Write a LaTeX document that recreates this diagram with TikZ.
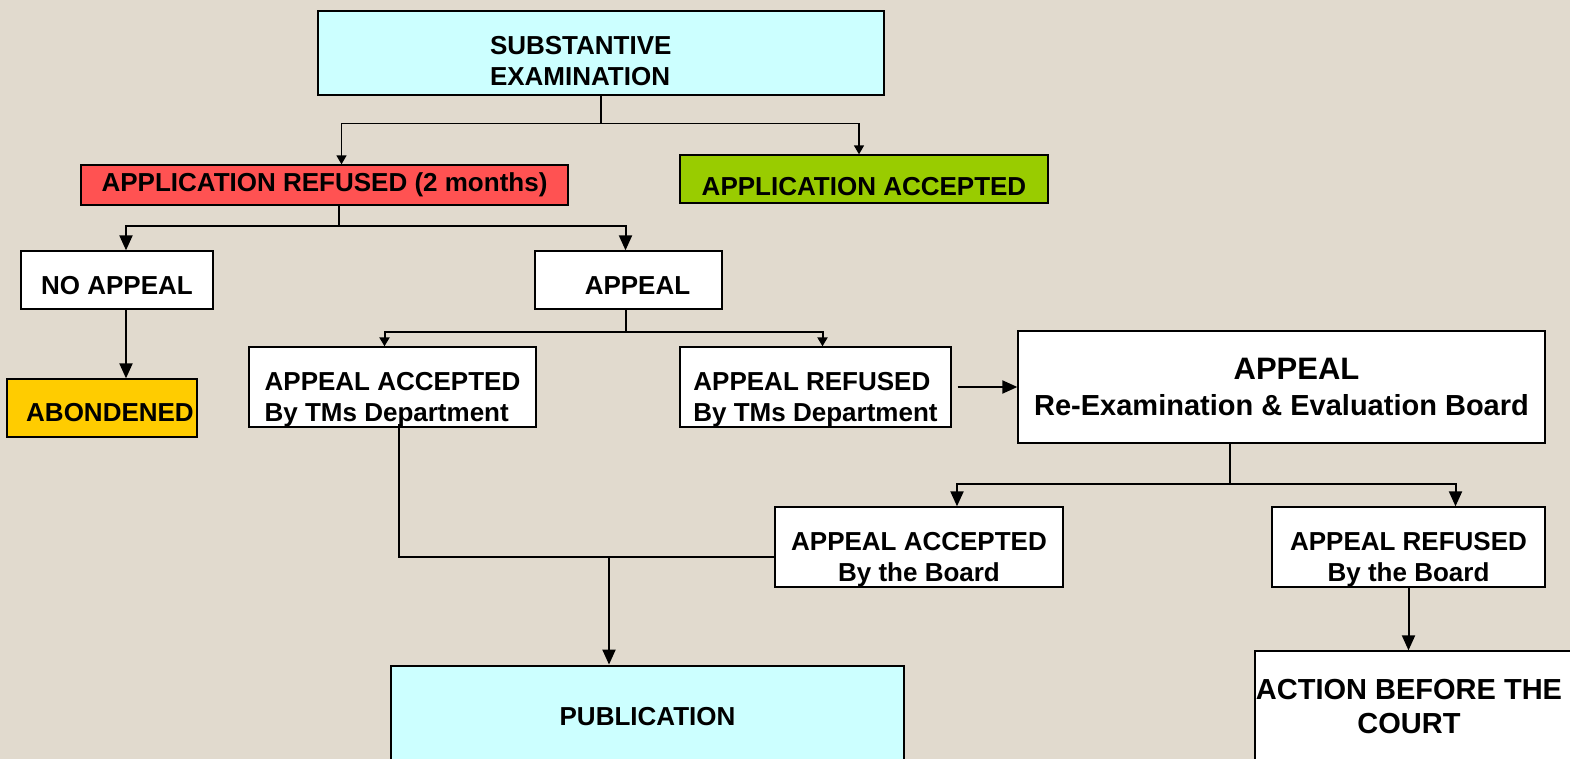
\documentclass[tikz,border=0pt]{standalone}
\usepackage{fontspec}
\setmainfont{Liberation Sans}
\usepackage{xcolor}
\usetikzlibrary{arrows.meta, positioning}

\definecolor{paper}{RGB}{225,218,206}
\definecolor{pale}{RGB}{204,255,255}
\definecolor{refred}{RGB}{255,82,82}
\definecolor{accgreen}{RGB}{153,204,0}
\definecolor{gold}{RGB}{255,204,0}
% pushes the text of a box down (taller first line)
\newcommand{\dropby}[1]{\rule{0pt}{#1}}

\begin{document}
\begin{tikzpicture}[
    x=1pt, y=-1pt,
    box/.style ={draw, line width=1.3pt, fill=white, inner sep=0pt,
                 align=center, font=\fontsize{26}{31}\selectfont\bfseries},
    heavy/.style={box, line width=2.8pt, fill=pale},
    flow/.style={-{Triangle[width=13pt,length=15pt]}, line width=2pt},
    flowsm/.style={-{Triangle[width=10pt,length=9pt]}, line width=1.4pt},
]
\clip (0,0) rectangle (1570,759);
\fill[paper] (0,0) rectangle (1570,759);

\node[heavy, minimum width=566pt, minimum height=84pt, text width=222pt, align=left]
  (subst) at (601,53)
  {\dropby{35pt}SUBSTANTIVE\\EXAMINATION};
\node[box, fill=refred, minimum width=487pt, minimum height=40pt] (refused) at (324.5,185)
  {APPLICATION REFUSED (2 months)};
\node[box, fill=accgreen, minimum width=368pt, minimum height=48pt,
      text height=40pt, text depth=6pt] (accepted) at (864,179)
  {APPLICATION ACCEPTED};
\node[box, minimum width=192pt, minimum height=58pt] (noappeal) at (117,280)
  {\dropby{29pt}NO APPEAL};
\node[box, minimum width=187pt, minimum height=58pt] (appeal) at (628.5,280)
  {\dropby{29pt}\hspace*{18pt}APPEAL};
\node[box, fill=gold, minimum width=190pt, minimum height=58pt] (abond) at (102,408)
  {\dropby{27pt}\hspace*{16pt}ABONDENED};
\node[box, align=left, minimum width=287pt, minimum height=80pt] (acctms) at (392.5,387)
  {\dropby{43pt}APPEAL ACCEPTED\\By TMs Department};
\node[box, align=left, minimum width=271pt, minimum height=80pt] (reftms) at (815.5,387)
  {\dropby{43pt}APPEAL REFUSED\\By TMs Department};
\node[box, minimum width=527pt, minimum height=112pt, font=\fontsize{29}{36}\selectfont\bfseries]
  (board) at (1281.5,387)
  {\hspace*{30pt}{\fontsize{31}{36}\selectfont APPEAL}\\Re-Examination \& Evaluation Board};
\node[box, minimum width=288pt, minimum height=80pt] (accboard) at (919,547)
  {\dropby{43pt}APPEAL ACCEPTED\\By the Board};
\node[box, minimum width=273pt, minimum height=80pt] (refboard) at (1408.5,547)
  {\dropby{43pt}APPEAL REFUSED\\By the Board};
\node[heavy, minimum width=513pt, minimum height=98pt] (publ) at (647.5,715)
  {\dropby{22pt}PUBLICATION};
\node[box, minimum width=330pt, minimum height=112pt, font=\fontsize{29}{34}\selectfont\bfseries]
  (action) at (1420,707)
  {\hspace*{-22pt}ACTION BEFORE THE\\\hspace*{-22pt}COURT};

% first split
\draw[flowsm] (subst.south) -- ++(0,27) -| ([xshift=17pt]refused.north);
\draw[flowsm] (subst.south) -- ++(0,27) -| ([xshift=-5pt]accepted.north);
\draw[flow] ([xshift=14pt]refused.south) -- ++(0,20) -| ([xshift=9pt]noappeal.north);
\draw[flow] ([xshift=14pt]refused.south) -- ++(0,20) -| ([xshift=-3pt]appeal.north);
\draw[flow] ([xshift=9pt]noappeal.south) -- ([xshift=9pt]noappeal.south |- abond.north);
\draw[flowsm, line width=2pt] ([xshift=-3pt]appeal.south) -- ++(0,22) -| ([xshift=-8pt]acctms.north);
\draw[flowsm, line width=2pt] ([xshift=-3pt]appeal.south) -- ++(0,22) -| ([xshift=7pt]reftms.north);
\draw[flow, shorten <=6pt] (reftms.east) -- (board.west);
\draw[flow] ([xshift=-52pt]board.south) -- ++(0,40) -| ([xshift=38pt]accboard.north);
\draw[flow] ([xshift=-52pt]board.south) -- ++(0,40) -| ([xshift=47pt]refboard.north);
\draw[flow] (refboard.south) -- (refboard.south |- action.north);
% the way to publication
\coordinate (join) at (609,557);
\draw[line width=2pt] ([xshift=6pt,yshift=4pt]acctms.south) |- ([yshift=-10pt]accboard.west);
\draw[flow] (join) -- (join |- publ.north);
\end{tikzpicture}
\end{document}
